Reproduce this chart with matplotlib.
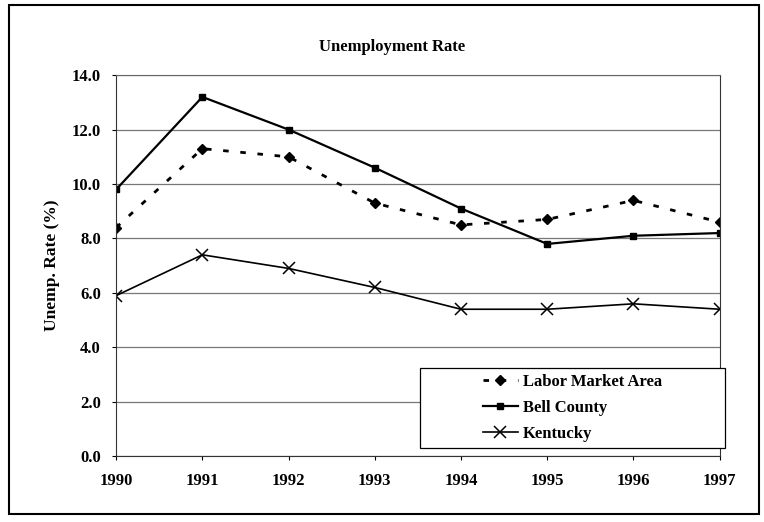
import matplotlib.pyplot as plt
from matplotlib.patches import Rectangle

years = [1990, 1991, 1992, 1993, 1994, 1995, 1996, 1997]
labor = [8.4, 11.3, 11.0, 9.3, 8.5, 8.7, 9.4, 8.6]
bell = [9.8, 13.2, 12.0, 10.6, 9.1, 7.8, 8.1, 8.2]
kentucky = [5.9, 7.4, 6.9, 6.2, 5.4, 5.4, 5.6, 5.4]
yticks = [0, 2, 4, 6, 8, 10, 12, 14]

plt.rcParams['font.family'] = 'Liberation Serif'
plt.rcParams['font.weight'] = 'bold'

fig = plt.figure(figsize=(7.64, 5.22), dpi=100)
ax = fig.add_axes([0.152, 0.126, 0.79, 0.730])

# outer border around the whole chart
fig.patches.append(Rectangle((0.012, 0.015), 0.982, 0.975, transform=fig.transFigure,
                             fill=False, edgecolor='black', linewidth=1.5))

ax.plot(years, labor, color='black', linestyle=(0, (2, 4.2)), linewidth=2.0,
        marker='D', markersize=5, label='Labor Market Area')
ax.plot(years, bell, color='black', linewidth=1.6, marker='s', markersize=4.5,
        label='Bell County')
ax.plot(years, kentucky, color='black', linewidth=1.2, marker='x', markersize=8,
        markeredgewidth=1.1, label='Kentucky')

ax.set_xlim(1990, 1997)
ax.set_ylim(0, 14)
ax.set_yticks(yticks)
ax.set_yticklabels([f'{v:.1f}' for v in yticks])
ax.set_xticks(years)
ax.tick_params(axis='both', labelsize=12, length=3, direction='out')
ax.tick_params(axis='x', pad=9)
ax.tick_params(axis='y', pad=8)
ax.grid(axis='y', color='#777777', linewidth=0.9)
ax.set_axisbelow(True)
ax.spines['top'].set_color('#666666')
ax.spines['right'].set_color('#333333')
ax.spines['left'].set_color('#333333')
ax.spines['bottom'].set_color('#333333')

ax.set_ylabel('Unemp. Rate (%)', fontsize=12.5, fontweight='bold', labelpad=8)
fig.text(0.513, 0.91, 'Unemployment Rate', fontsize=12, fontweight='bold',
         ha='center', va='center')

# legend frame drawn as a box, entries centred inside it
box = Rectangle((0.503, 0.021), 0.505, 0.21, transform=ax.transAxes, clip_on=False,
                facecolor='white', edgecolor='black', linewidth=0.9, zorder=4)
ax.add_patch(box)
leg = ax.legend(loc='center', bbox_to_anchor=(0.7555, 0.126), frameon=False,
                fontsize=12, handlelength=2.1, handletextpad=0.3,
                labelspacing=0.6, borderpad=0)
leg.set_zorder(5)

fig.savefig('out.png', dpi=100)
